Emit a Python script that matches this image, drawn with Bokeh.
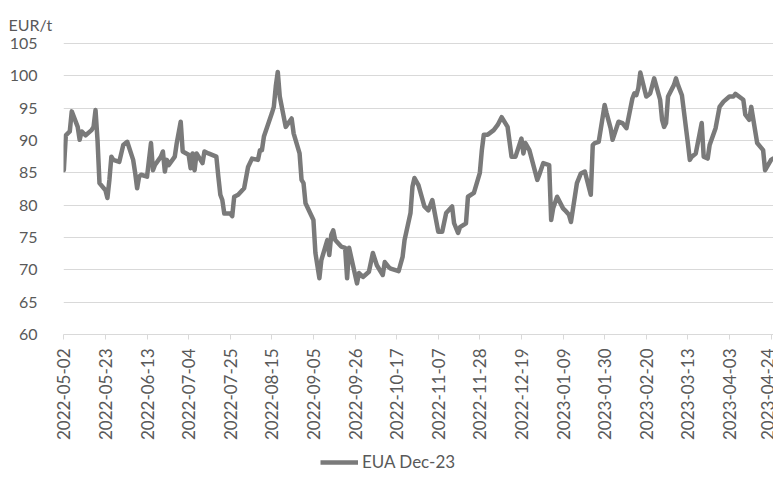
import math
from datetime import datetime, timedelta

from bokeh.embed import file_html
from bokeh.layouts import column
from bokeh.models import (ColumnDataSource, DatetimeTickFormatter, FixedTicker,
                          Legend, LegendItem, Range1d)
from bokeh.plotting import figure
from bokeh.resources import INLINE

# EUA Dec-23 futures settlement, EUR/t
dates = [
    "2022-05-02", "2022-05-03", "2022-05-05", "2022-05-06", "2022-05-09", "2022-05-10",
    "2022-05-11", "2022-05-13", "2022-05-16", "2022-05-17", "2022-05-18", "2022-05-19",
    "2022-05-20", "2022-05-23", "2022-05-24", "2022-05-25", "2022-05-26", "2022-05-27",
    "2022-05-30", "2022-06-01", "2022-06-03", "2022-06-06", "2022-06-07", "2022-06-08",
    "2022-06-09", "2022-06-10", "2022-06-13", "2022-06-15", "2022-06-16", "2022-06-17",
    "2022-06-20", "2022-06-21", "2022-06-22", "2022-06-23", "2022-06-24", "2022-06-27",
    "2022-06-28", "2022-06-30", "2022-07-01", "2022-07-04", "2022-07-05", "2022-07-06",
    "2022-07-07", "2022-07-08", "2022-07-11", "2022-07-12", "2022-07-14", "2022-07-18",
    "2022-07-19", "2022-07-20", "2022-07-21", "2022-07-22", "2022-07-25", "2022-07-26",
    "2022-07-27", "2022-07-29", "2022-08-01", "2022-08-03", "2022-08-05", "2022-08-08",
    "2022-08-09", "2022-08-10", "2022-08-11", "2022-08-15", "2022-08-16", "2022-08-17",
    "2022-08-18", "2022-08-19", "2022-08-22", "2022-08-25", "2022-08-26", "2022-08-29",
    "2022-08-30", "2022-08-31", "2022-09-01", "2022-09-05", "2022-09-06", "2022-09-08",
    "2022-09-09", "2022-09-12", "2022-09-13", "2022-09-14", "2022-09-15", "2022-09-16",
    "2022-09-19", "2022-09-21", "2022-09-22", "2022-09-23", "2022-09-27", "2022-09-28",
    "2022-09-30", "2022-10-03", "2022-10-05", "2022-10-07", "2022-10-10", "2022-10-11",
    "2022-10-13", "2022-10-14", "2022-10-18", "2022-10-20", "2022-10-21", "2022-10-24",
    "2022-10-25", "2022-10-26", "2022-10-28", "2022-10-31", "2022-11-02", "2022-11-04",
    "2022-11-07", "2022-11-09", "2022-11-11", "2022-11-14", "2022-11-15", "2022-11-17",
    "2022-11-18", "2022-11-21", "2022-11-22", "2022-11-25", "2022-11-28", "2022-11-29",
    "2022-11-30", "2022-12-02", "2022-12-05", "2022-12-07", "2022-12-09", "2022-12-12",
    "2022-12-14", "2022-12-16", "2022-12-19", "2022-12-20", "2022-12-21", "2022-12-23",
    "2022-12-27", "2022-12-28", "2022-12-30", "2023-01-02", "2023-01-03", "2023-01-04",
    "2023-01-06", "2023-01-09", "2023-01-10", "2023-01-12", "2023-01-13", "2023-01-16",
    "2023-01-18", "2023-01-20", "2023-01-23", "2023-01-24", "2023-01-25", "2023-01-27",
    "2023-01-30", "2023-01-31", "2023-02-02", "2023-02-03", "2023-02-06", "2023-02-08",
    "2023-02-10", "2023-02-13", "2023-02-14", "2023-02-15", "2023-02-16", "2023-02-17",
    "2023-02-20", "2023-02-21", "2023-02-22", "2023-02-24", "2023-02-27", "2023-02-28",
    "2023-03-01", "2023-03-02", "2023-03-03", "2023-03-06", "2023-03-07", "2023-03-08",
    "2023-03-10", "2023-03-13", "2023-03-14", "2023-03-15", "2023-03-17", "2023-03-20",
    "2023-03-21", "2023-03-23", "2023-03-24", "2023-03-27", "2023-03-29", "2023-03-31",
    "2023-04-03", "2023-04-05", "2023-04-06", "2023-04-10", "2023-04-11", "2023-04-13",
    "2023-04-14", "2023-04-17", "2023-04-20", "2023-04-21", "2023-04-24", "2023-04-25",
]
prices = [
    85.4, 90.8, 91.4, 94.5, 92.1, 90.1,
    91.4, 90.8, 91.6, 92.1, 94.7, 90.1,
    83.4, 82.3, 81.1, 83.9, 87.5, 87.0,
    86.7, 89.3, 89.8, 87.0, 85.0, 82.6,
    84.4, 84.7, 84.4, 89.6, 85.4, 86.2,
    87.5, 88.3, 85.2, 87.0, 86.2, 87.5,
    89.6, 92.9, 88.3, 87.8, 85.7, 88.0,
    85.4, 88.0, 86.5, 88.3, 88.0, 87.5,
    84.4, 81.6, 80.8, 78.7, 78.7, 78.3,
    81.3, 81.6, 82.6, 85.9, 87.2, 87.0,
    88.5, 88.5, 90.6, 94.2, 95.2, 98.4,
    100.6, 96.8, 92.1, 93.4, 91.1, 88.0,
    83.9, 83.4, 80.3, 77.7, 72.6, 68.7,
    71.5, 74.6, 72.3, 75.4, 76.1, 74.6,
    73.6, 73.4, 68.7, 73.4, 67.9, 69.5,
    68.9, 69.7, 72.6, 70.7, 69.2, 71.2,
    70.4, 70.2, 69.8, 72.0, 74.6, 78.8,
    82.9, 84.2, 83.1, 79.8, 79.2, 80.8,
    75.9, 75.9, 78.8, 79.8, 77.2, 75.7,
    76.6, 77.2, 81.3, 81.9, 85.0, 88.5,
    90.9, 90.9, 91.6, 92.4, 93.6, 92.1,
    87.5, 87.5, 90.3, 88.0, 89.6, 88.5,
    83.9, 84.7, 86.5, 86.2, 77.7, 79.5,
    81.3, 79.5, 79.2, 78.5, 77.4, 83.4,
    84.9, 85.2, 81.6, 89.3, 89.6, 89.8,
    95.5, 94.2, 91.9, 90.1, 92.9, 92.7,
    91.9, 96.5, 97.3, 97.0, 98.1, 100.5,
    96.8, 97.0, 97.3, 99.6, 96.3, 93.2,
    92.1, 92.7, 96.8, 98.6, 99.6, 98.6,
    97.0, 89.6, 87.0, 87.5, 88.0, 92.7,
    87.5, 87.2, 89.3, 91.9, 95.2, 96.0,
    96.8, 96.8, 97.2, 96.3, 94.0, 93.2,
    95.2, 89.6, 88.5, 85.4, 87.0, 87.2,
]

# x-axis tick dates (every three weeks)
tick_labels = [
    "2022-05-02", "2022-05-23", "2022-06-13", "2022-07-04", "2022-07-25",
    "2022-08-15", "2022-09-05", "2022-09-26", "2022-10-17", "2022-11-07",
    "2022-11-28", "2022-12-19", "2023-01-09", "2023-01-30", "2023-02-20",
    "2023-03-13", "2023-04-03", "2023-04-24",
]
y_ticks = [60, 65, 70, 75, 80, 85, 90, 95, 100, 105]

series_name = "EUA Dec-23"
unit_label = "EUR/t"

FONT = "Lato"
TEXT_COLOR = "#595959"
LINE_COLOR = "#7a7a7a"
GRID_COLOR = "#d9d9d9"
LINE_WIDTH = 4.5


def to_dt(s):
    return datetime.strptime(s, "%Y-%m-%d")


def to_ms(d):
    return (d - datetime(1970, 1, 1)).total_seconds() * 1000.0


source = ColumnDataSource(data=dict(date=[to_dt(d) for d in dates], price=prices))

first_tick = to_dt(tick_labels[0])
x_start = first_tick - timedelta(hours=4)
x_end = x_start + timedelta(days=358.4)

# ---- main price chart ----
p = figure(
    width=773, height=450,
    x_axis_type="datetime",
    x_range=Range1d(x_start, x_end),
    y_range=Range1d(60, 105.15),
    output_backend="svg",
    toolbar_location=None,
    min_border_left=63, min_border_right=0,
    min_border_top=42, min_border_bottom=116,
)
p.outline_line_color = None
p.background_fill_color = "white"
p.border_fill_color = "white"

# unit caption in the top-left corner
p.title.text = unit_label
p.title.align = "left"
p.title.offset = -55
p.title.standoff = 17
p.title.text_font = FONT
p.title.text_font_size = "16px"
p.title.text_font_style = "normal"
p.title.text_color = TEXT_COLOR

p.line("date", "price", source=source, line_width=LINE_WIDTH,
       line_color=LINE_COLOR, line_join="round", line_cap="round")

# y axis: plain labels, light horizontal gridlines
p.yaxis.ticker = FixedTicker(ticks=y_ticks)
p.yaxis.axis_line_color = None
p.yaxis.major_tick_line_color = None
p.yaxis.minor_tick_line_color = None
p.yaxis.major_label_standoff = 20
p.yaxis.major_label_text_font = FONT
p.yaxis.major_label_text_font_size = "16px"
p.yaxis.major_label_text_color = TEXT_COLOR
p.ygrid.grid_line_color = GRID_COLOR
p.ygrid.ticker = FixedTicker(ticks=y_ticks)
p.xgrid.grid_line_color = None

# x axis: vertical date labels every three weeks
p.xaxis.ticker = FixedTicker(ticks=[to_ms(to_dt(t)) for t in tick_labels])
fmt = "%Y-%m-%d"
p.xaxis.formatter = DatetimeTickFormatter(
    microseconds=fmt, milliseconds=fmt, seconds=fmt, minsec=fmt, minutes=fmt,
    hourmin=fmt, hours=fmt, days=fmt, months=fmt, years=fmt,
)
p.xaxis.major_label_orientation = math.pi / 2
p.xaxis.axis_line_color = GRID_COLOR
p.xaxis.major_tick_line_color = GRID_COLOR
p.xaxis.major_tick_in = 0
p.xaxis.major_tick_out = 5
p.xaxis.minor_tick_line_color = None
p.xaxis.major_label_standoff = 9
p.xaxis.major_label_text_font = FONT
p.xaxis.major_label_text_font_size = "17px"
p.xaxis.major_label_text_color = TEXT_COLOR

# ---- legend strip under the chart ----
# Its frame is aligned with the chart's frame by the column layout, so the
# legend offset is measured from the chart's left frame edge.
leg = figure(
    width=773, height=27,
    x_range=Range1d(0, 1), y_range=Range1d(0, 1),
    output_backend="svg", toolbar_location=None,
    x_axis_location=None, y_axis_location=None,
    min_border=0,
)
leg.outline_line_color = None
leg.grid.visible = False
leg.border_fill_color = "white"
leg.background_fill_color = "white"
# same series, styled like the chart line; its dates fall outside this strip's range
swatch = leg.line("date", "price", source=source, line_width=LINE_WIDTH,
                  line_color=LINE_COLOR)

legend = Legend(
    items=[LegendItem(label=series_name, renderers=[swatch])],
    location=(257, 5), orientation="horizontal",
    margin=0, padding=0, spacing=0,
    glyph_width=38, glyph_height=20, label_height=20, label_standoff=4,
    label_text_font=FONT, label_text_font_size="17px", label_text_color=TEXT_COLOR,
    border_line_alpha=0, background_fill_alpha=0,
)
leg.add_layout(legend)

layout = column(p, leg, spacing=0)
open("out.html", "w").write(file_html(layout, INLINE))
